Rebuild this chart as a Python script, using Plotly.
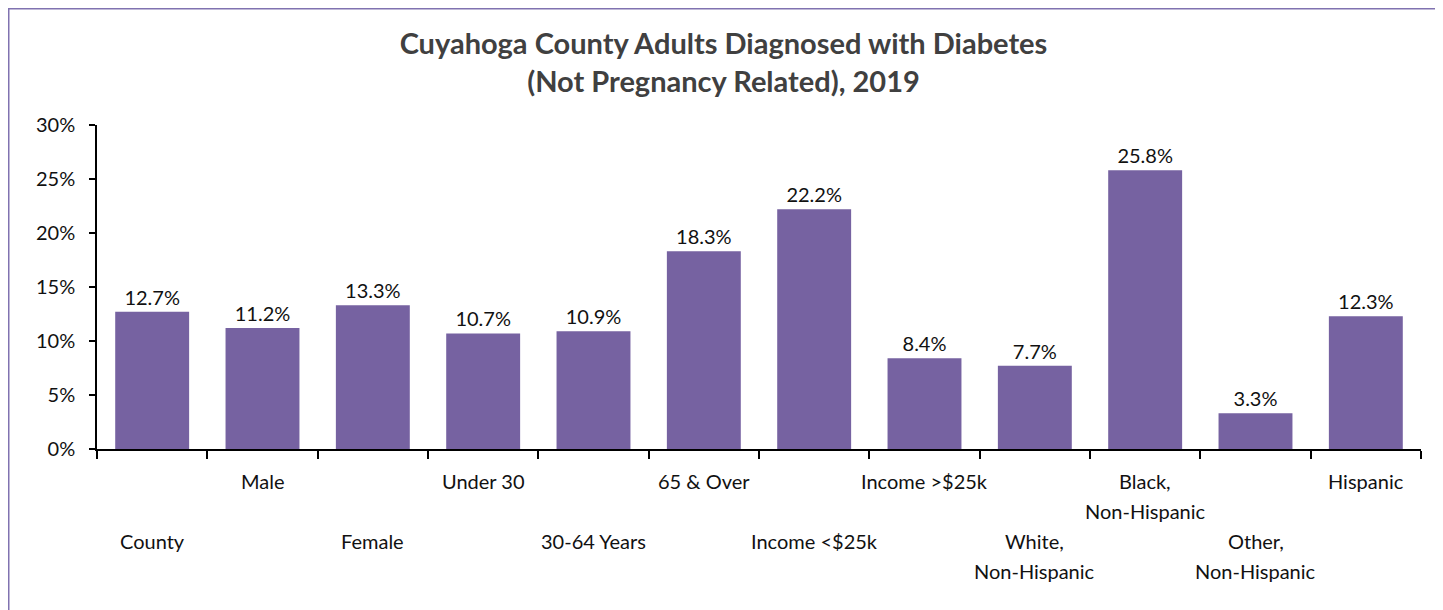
import plotly.graph_objects as go

categories = ["County", "Male", "Female", "Under 30", "30-64 Years", "65 & Over",
              "Income <$25k", "Income >$25k", "White, Non-Hispanic",
              "Black, Non-Hispanic", "Other, Non-Hispanic", "Hispanic"]
label_lines = [["County"], ["Male"], ["Female"], ["Under 30"], ["30-64 Years"], ["65 & Over"],
               ["Income <$25k"], ["Income >$25k"], ["White,", "Non-Hispanic"],
               ["Black,", "Non-Hispanic"], ["Other,", "Non-Hispanic"], ["Hispanic"]]
values = [12.7, 11.2, 13.3, 10.7, 10.9, 18.3, 22.2, 8.4, 7.7, 25.8, 3.3, 12.3]
y_ticks = [0, 5, 10, 15, 20, 25, 30]

FONT = "Lato"
BAR = "#7662A1"

fig = go.Figure(go.Bar(
    x=categories, y=values,
    marker=dict(color=BAR, line=dict(width=0)),
    texttemplate="%{y:.1f}%", textposition="outside", cliponaxis=False,
    textfont=dict(family=FONT, size=20, color="#111111"),
))

# page body has an 8px margin; figure coordinates are page coordinates - 8
W, H = 1431, 602
ml, mr, mt, mb = 89, 18, 117, 161

annotations = []
for i, (cat, lines) in enumerate(zip(categories, label_lines)):
    base = -32 if i % 2 == 1 else -92
    for j, ln in enumerate(lines):
        annotations.append(dict(
            x=cat, xref="x", y=0, yref="paper", text=ln, showarrow=False,
            yanchor="middle", xanchor="center", yshift=base - 30 * j,
            font=dict(family=FONT, size=20, color="#111111")))

pw = W - ml - mr
ph = H - mt - mb
fig.add_shape(type="rect", xref="paper", yref="paper",
              x0=(0.75 - ml) / pw, x1=(W - 0.75 - ml) / pw,
              y0=-(mb + 20) / ph, y1=(ph + mt - 0.75) / ph,
              line=dict(color="#8072B0", width=1.5), fillcolor="rgba(0,0,0,0)")

fig.update_layout(
    width=W, height=H,
    margin=dict(l=ml, r=mr, t=mt, b=mb),
    paper_bgcolor="white", plot_bgcolor="white",
    bargap=0.33,
    showlegend=False,
    title=dict(text="Cuyahoga County Adults Diagnosed with Diabetes<br>(Not Pregnancy Related), 2019",
               x=0.5, xanchor="center", y=1 - 46 / H, yanchor="middle",
               font=dict(family=FONT, size=29, color="#404040", weight="bold")),
    annotations=annotations,
    font=dict(family=FONT),
)
fig.update_xaxes(type="category", showticklabels=False, tickson="boundaries",
                 ticks="outside", ticklen=8, tickwidth=1.5, tickcolor="black",
                 showline=True, linecolor="black", linewidth=1.5, showgrid=False,
                 range=[-0.5, len(categories) - 0.5])
fig.update_yaxes(range=[0, 30], tickvals=y_ticks, ticktext=[f"{v}%" for v in y_ticks],
                 ticks="outside", ticklen=6, tickwidth=1.5, tickcolor="black",
                 showline=True, linecolor="black", linewidth=1.5, showgrid=False,
                 zeroline=False, ticklabelstandoff=10,
                 tickfont=dict(family=FONT, size=20, color="#111111"))

fig.write_html("out.html")
